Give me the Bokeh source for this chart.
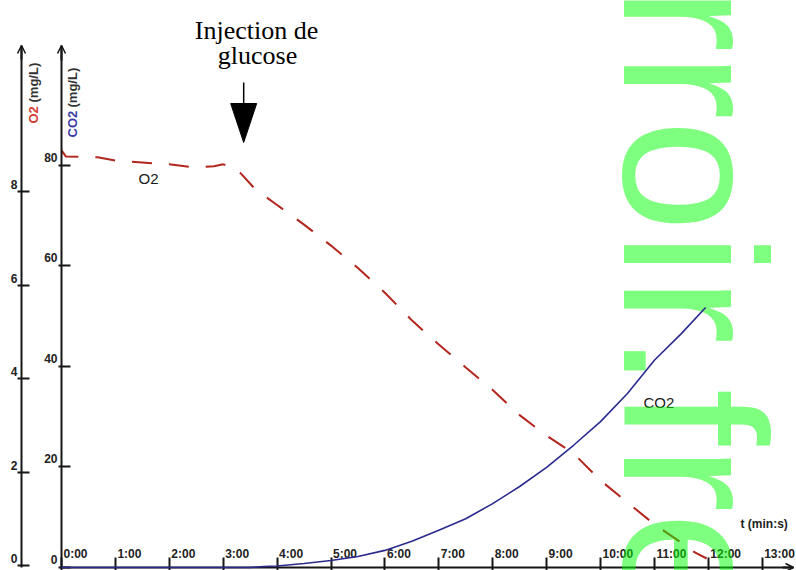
import math
from bokeh.plotting import figure
from bokeh.models import Range1d, LinearAxis, FixedTicker, Label, Arrow, OpenHead
from bokeh.embed import file_html
from bokeh.resources import INLINE

# ---------------- data ----------------
o2_time = [0, 0.08, 0.67, 1, 1.5, 2, 2.5, 2.83, 3, 3.25, 3.33, 3.6, 4, 4.5, 5, 5.5,
           6, 6.5, 7, 7.5, 8, 8.5, 9, 9.5, 10, 10.5, 11, 11.5, 11.75, 11.97]
o2_mgL = [8.89, 8.76, 8.74, 8.67, 8.63, 8.59, 8.52, 8.55, 8.59, 8.50, 8.39, 8.05, 7.72,
          7.30, 6.85, 6.37, 5.84, 5.25, 4.73, 4.24, 3.76, 3.22, 2.78, 2.40, 1.82, 1.35,
          0.88, 0.49, 0.28, 0.15]

co2_time = [0, 1, 2, 3, 3.5, 3.75, 4, 4.5, 5, 5.5, 6, 6.5, 7, 7.5, 8, 8.5, 9, 9.5,
            10, 10.5, 11, 11.5, 11.95]
co2_mgL = [0, 0, 0, 0, 0, 0.2, 0.3, 0.8, 1.4, 2.2, 3.4, 5.2, 7.4, 9.7, 12.7, 16.1,
           19.9, 24.3, 29.0, 34.6, 41.2, 46.5, 51.7]

x_ticks = list(range(14))
x_tick_labels = [f"{m}:00" for m in x_ticks]
o2_ticks = [0, 2, 4, 6, 8]
o2_tick_labels = [str(v) for v in o2_ticks]
co2_ticks = [0, 20, 40, 60, 80]
co2_tick_labels = [str(v) for v in co2_ticks]
injection_time = 3.38

# ---------------- geometry (canvas = page, frame = whole canvas) ----------------
W, H = 796, 570
X0, PXM = 61.0, 53.9        # pixel of t=0, pixels per minute
O2_0, PXO = 565.0, 46.7     # pixel of O2=0, pixels per mg/L
CO2_0, PXC = 567.0, 5.03    # pixel of CO2=0, pixels per mg/L


def fx(px):
    return (px - X0) / PXM


def fy(py):
    return (O2_0 - py) / PXO


def fyc(py):
    return (CO2_0 - py) / PXC


x_range = Range1d(fx(0), fx(W))
o2_range = Range1d(fy(H), fy(0))
co2_range = Range1d(fyc(H), fyc(0))

x_axis_y = fy(567)
o2_axis_x = fx(21)
top_o2 = fy(45)
top_co2 = fyc(45)
right_x = fx(793)

AX = "#161616"
FONT = "Liberation Sans"
TICK_COLOR = "#222222"

p = figure(width=W, height=H, x_range=x_range, y_range=o2_range,
           output_backend="svg", toolbar_location=None, title=None,
           x_axis_location="above", y_axis_location="left",
           min_border_left=0, min_border_right=0,
           min_border_top=0, min_border_bottom=0)
p.outline_line_color = None
p.background_fill_color = "white"
p.border_fill_color = "white"
p.grid.visible = False
p.extra_y_ranges = {"co2": co2_range}

# ---------------- curves ----------------
p.line(o2_time, o2_mgL, line_color="#b3261e", line_width=2, line_dash="20 17")
p.line(co2_time, co2_mgL, y_range_name="co2", line_color="#2a2a8e", line_width=1.6,
       level="overlay")

# ---------------- axes ----------------
xa = p.xaxis[0]
xa.fixed_location = x_axis_y
xa.bounds = (0, right_x)
xa.ticker = FixedTicker(ticks=x_ticks)
xa.major_tick_out = 10
xa.major_tick_in = 3

ya = p.yaxis[0]
ya.fixed_location = o2_axis_x
ya.bounds = (x_axis_y, top_o2)
ya.ticker = FixedTicker(ticks=o2_ticks)
ya.major_tick_out = 4
ya.major_tick_in = 8

co2_axis = LinearAxis(y_range_name="co2", fixed_location=0,
                      ticker=FixedTicker(ticks=co2_ticks))
co2_axis.bounds = (0, top_co2)
co2_axis.major_tick_out = 3
co2_axis.major_tick_in = 9
p.add_layout(co2_axis, "left")

for ax in [xa, ya, co2_axis]:
    ax.axis_line_color = AX
    ax.axis_line_width = 2
    ax.major_tick_line_color = AX
    ax.major_tick_line_width = 2
    ax.minor_tick_line_color = None
    ax.major_label_text_color = None

# tick labels placed like the original (above / left of each tick)
tick_style = dict(text_font={"value": FONT}, text_font_style="bold",
                  text_font_size="12px", text_color=TICK_COLOR,
                  text_baseline="middle")
p.text(x=x_ticks, y=[x_axis_y] * len(x_ticks), text=x_tick_labels,
       x_offset=2, y_offset=-14, text_align="left", **tick_style)
p.text(x=[o2_axis_x] * len(o2_ticks), y=o2_ticks, text=o2_tick_labels,
       x_offset=-4, y_offset=-7, text_align="right", **tick_style)
p.text(x=[0] * len(co2_ticks), y=co2_ticks, text=co2_tick_labels, y_range_name="co2",
       x_offset=-4, y_offset=-8, text_align="right", **tick_style)

# axis arrow heads
p.add_layout(Arrow(end=OpenHead(size=8, line_width=1.5, line_color=AX),
                   x_start=o2_axis_x, x_end=o2_axis_x,
                   y_start=top_o2 - 0.3, y_end=top_o2,
                   line_color=AX, line_width=2))
p.add_layout(Arrow(end=OpenHead(size=8, line_width=1.5, line_color=AX),
                   x_start=0, x_end=0, y_range_name="co2",
                   y_start=top_co2 - 3, y_end=top_co2,
                   line_color=AX, line_width=2))
p.add_layout(Arrow(end=OpenHead(size=8, line_width=1.5, line_color=AX),
                   x_start=right_x - 0.2, x_end=right_x,
                   y_start=x_axis_y, y_end=x_axis_y,
                   line_color=AX, line_width=2))

# axis titles (rotated, to the right of each axis line); anchor = glyph middle
TS = 13
mid = 0.35 * TS
p.add_layout(Label(x=fx(38 - mid), y=fy(123), text="O2", angle=math.pi / 2,
                   text_font=FONT, text_font_style="bold", text_font_size=f"{TS}px",
                   text_color="#d43a2f", text_baseline="middle", text_align="left"))
p.add_layout(Label(x=fx(38 - mid), y=fy(123 - 21), text="(mg/L)", angle=math.pi / 2,
                   text_font=FONT, text_font_style="bold", text_font_size=f"{TS}px",
                   text_color="#333333", text_baseline="middle", text_align="left"))
p.add_layout(Label(x=fx(77 - mid), y=fy(137), text="CO2", angle=math.pi / 2,
                   text_font=FONT, text_font_style="bold", text_font_size=f"{TS}px",
                   text_color="#3a3aa8", text_baseline="middle", text_align="left"))
p.add_layout(Label(x=fx(77 - mid), y=fy(137 - 30), text="(mg/L)", angle=math.pi / 2,
                   text_font=FONT, text_font_style="bold", text_font_size=f"{TS}px",
                   text_color="#333333", text_baseline="middle", text_align="left"))

p.add_layout(Label(x=fx(740), y=fy(530), text="t (min:s)", text_font=FONT,
                   text_font_style="bold", text_font_size="12px", text_color=TICK_COLOR,
                   text_baseline="bottom"))

# curve names
p.add_layout(Label(x=fx(138), y=fy(186), text="O2", text_font=FONT,
                   text_font_size="15px", text_color="#1a1a1a", text_baseline="bottom"))
p.add_layout(Label(x=fx(643), y=fy(410), text="CO2", text_font=FONT,
                   text_font_size="15px", text_color="#1a1a1a", text_baseline="bottom"))

# injection annotation
p.add_layout(Label(x=fx(256), y=fy(44), text="Injection de", text_font="Liberation Serif",
                   text_font_size="26px", text_color="black", text_align="center",
                   text_baseline="bottom"))
p.add_layout(Label(x=fx(257), y=fy(69), text="glucose", text_font="Liberation Serif",
                   text_font_size="26px", text_color="black", text_align="center",
                   text_baseline="bottom"))
p.segment(x0=[injection_time], y0=[fy(82)], x1=[injection_time], y1=[fy(105)],
          line_color="black", line_width=1.5)
dx = 13 / PXM
p.patch([injection_time - dx, injection_time + dx, injection_time],
        [fy(103), fy(103), fy(142)], fill_color="black", line_color="black")

# watermark (rotated, semi-transparent green)
WS = 202
p.add_layout(Label(x=fx(623 + 0.35 * WS), y=fy(-184), text="terroir.free.fr",
                   angle=-math.pi / 2, text_font=FONT, text_font_size=f"{WS}px",
                   text_color="#00ff00", text_alpha=0.5, text_align="left",
                   text_baseline="middle"))

open("out.html", "w").write(file_html(p, INLINE))
